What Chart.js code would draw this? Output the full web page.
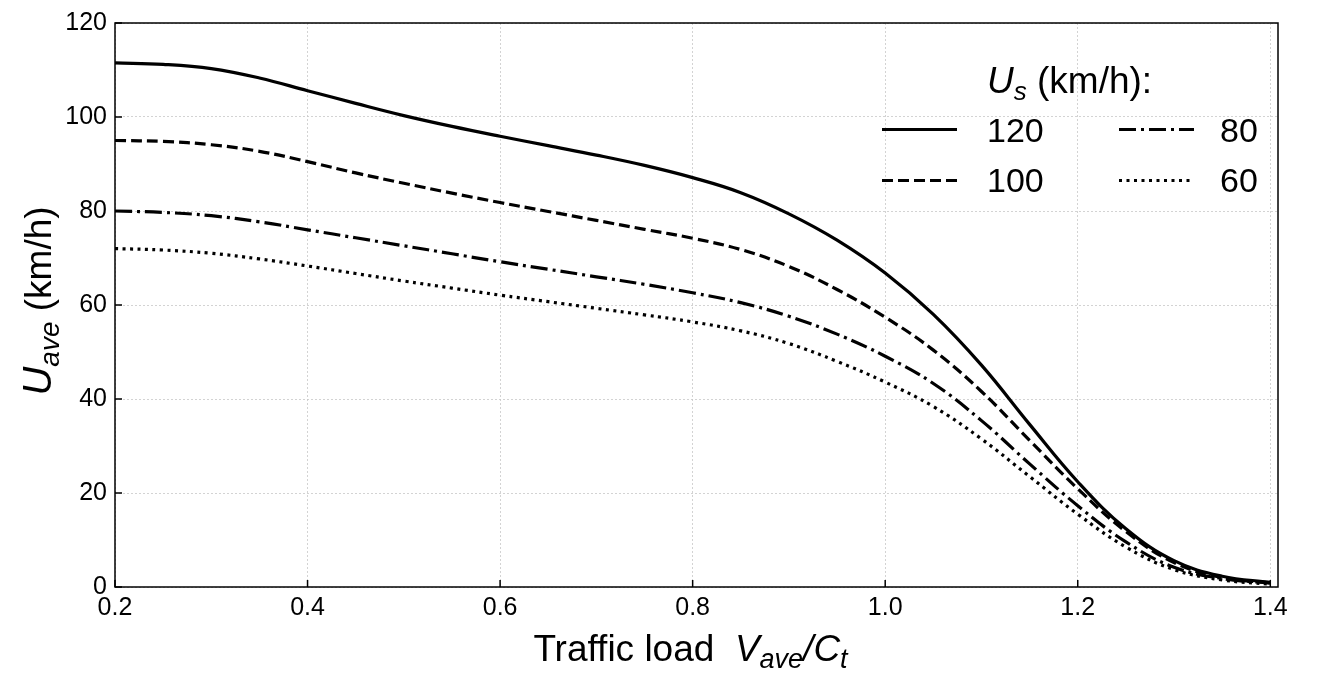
<!DOCTYPE html>
<html>
<head>
<meta charset="utf-8">
<script src="https://cdn.jsdelivr.net/npm/chart.js@4.4.1/dist/chart.umd.min.js"></script>
<style>
  html, body { margin: 0; padding: 0; background: #fff; }
</style>
</head>
<body>
<canvas id="speedChart" width="1338" height="680"></canvas>
<script>
// traffic load V_ave/C_t
const loadRatio = [0.2, 0.25, 0.3, 0.35, 0.4, 0.45, 0.5, 0.55, 0.6, 0.65, 0.7, 0.75, 0.8,
                   0.85, 0.9, 0.95, 1.0, 1.05, 1.1, 1.15, 1.2, 1.25, 1.3, 1.35, 1.4];

// average speed U_ave (km/h) for each speed limit U_s
const speed120 = [111.5, 111.2, 110.3, 108.3, 105.6, 102.9, 100.3, 98.0, 95.9, 93.9, 91.9, 89.7, 87.1,
                  83.9, 79.4, 73.8, 66.8, 58.0, 47.2, 34.6, 22.4, 12.4, 5.6, 2.3, 1.0];
const speed100 = [95.0, 94.8, 94.1, 92.7, 90.5, 88.1, 85.9, 83.8, 81.8, 79.9, 78.0, 76.1, 74.2,
                  71.8, 68.2, 63.3, 57.4, 50.4, 41.6, 31.2, 20.9, 11.8, 5.2, 2.0, 0.9];
const speed80 = [80.0, 79.7, 79.0, 77.7, 76.0, 74.3, 72.6, 70.9, 69.2, 67.6, 66.0, 64.4, 62.6,
                 60.5, 57.6, 53.8, 49.1, 43.3, 35.4, 26.2, 17.3, 9.6, 4.2, 1.8, 0.8];
const speed60 = [72.0, 71.7, 71.0, 69.8, 68.3, 66.7, 65.1, 63.6, 62.1, 60.7, 59.3, 57.9, 56.4,
                 54.5, 51.8, 48.0, 43.6, 38.4, 31.5, 23.5, 15.5, 8.5, 3.7, 1.5, 0.6];

const seriesLabels = ['120', '100', '80', '60'];
const xTicks = [0.2, 0.4, 0.6, 0.8, 1.0, 1.2, 1.4];
const yTicks = [0, 20, 40, 60, 80, 100, 120];

const FONT = '"Liberation Sans", Arial, Helvetica, sans-serif';

function toPoints(ys) {
    return loadRatio.map((x, i) => ({ x: x, y: ys[i] }));
}

// text with mixed italic / subscript parts
function richWidth(ctx, parts) {
    let w = 0;
    parts.forEach(p => {
        ctx.font = (p.italic ? 'italic ' : '') + p.size + 'px ' + FONT;
        w += ctx.measureText(p.text).width;
    });
    return w;
}
function drawRich(ctx, parts, x, y) {
    let cx = x;
    parts.forEach(p => {
        ctx.font = (p.italic ? 'italic ' : '') + p.size + 'px ' + FONT;
        ctx.fillText(p.text, cx, y + (p.dy || 0));
        cx += ctx.measureText(p.text).width;
    });
}

// frame, inward ticks, axis titles, legend
const decorPlugin = {
    id: 'decor',
    afterDraw(chart) {
        const ctx = chart.ctx;
        const a = chart.chartArea;
        const xs = chart.scales.x, ys = chart.scales.y;
        ctx.save();
        ctx.strokeStyle = '#000';
        ctx.fillStyle = '#000';
        ctx.lineWidth = 1.5;
        ctx.setLineDash([]);
        ctx.strokeRect(a.left, a.top, a.right - a.left, a.bottom - a.top);

        // ticks pointing inward
        ctx.beginPath();
        yTicks.forEach(v => {
            const py = ys.getPixelForValue(v);
            ctx.moveTo(a.left, py); ctx.lineTo(a.left + 7, py);
        });
        xTicks.forEach(v => {
            const px = xs.getPixelForValue(v);
            ctx.moveTo(px, a.bottom); ctx.lineTo(px, a.bottom - 7);
        });
        ctx.stroke();

        // x title
        ctx.textBaseline = 'alphabetic';
        const xTitle = [
            { text: 'Traffic load  ', size: 37 },
            { text: 'V', size: 37, italic: true },
            { text: 'ave', size: 27, italic: true, dy: 7 },
            { text: '/C', size: 37, italic: true },
            { text: 't', size: 27, italic: true, dy: 7 }
        ];
        const xw = richWidth(ctx, xTitle);
        drawRich(ctx, xTitle, (a.left + a.right) / 2 - xw / 2 - 6, 661);

        // y title, rotated
        const yTitle = [
            { text: 'U', size: 40, italic: true },
            { text: 'ave', size: 28, italic: true, dy: 8 },
            { text: ' (km/h)', size: 37 }
        ];
        const yw = richWidth(ctx, yTitle);
        ctx.save();
        ctx.translate(51, 301);
        ctx.rotate(-Math.PI / 2);
        drawRich(ctx, yTitle, -yw / 2, 0);
        ctx.restore();

        // legend
        const lTitle = [
            { text: 'U', size: 37, italic: true },
            { text: 's', size: 26, italic: true, dy: 7 },
            { text: ' (km/h):', size: 37 }
        ];
        drawRich(ctx, lTitle, 987, 93);
        const cols = [{ lx: 882, tx: 987 }, { lx: 1119, tx: 1220 }];
        const rows = [{ ly: 129.5, ty: 142 }, { ly: 180.5, ty: 192 }];
        chart.data.datasets.forEach((ds, i) => {
            const c = cols[Math.floor(i / 2)], r = rows[i % 2];
            ctx.beginPath();
            ctx.lineWidth = ds.borderWidth;
            ctx.lineCap = 'butt';
            ctx.setLineDash(ds.borderDash || []);
            ctx.moveTo(c.lx, r.ly); ctx.lineTo(c.lx + 75, r.ly);
            ctx.stroke();
            ctx.setLineDash([]);
            ctx.font = '34px ' + FONT;
            ctx.fillText(ds.label, c.tx, r.ty);
        });
        ctx.restore();
    }
};

const lineStyles = [[], [11, 5], [17, 5, 3, 5], [3, 4.5]];
const seriesData = [speed120, speed100, speed80, speed60];

new Chart(document.getElementById('speedChart'), {
    type: 'line',
    data: {
        datasets: seriesData.map((ys, i) => ({
            label: seriesLabels[i],
            data: toPoints(ys),
            borderColor: '#000',
            borderWidth: 3.2,
            borderDash: lineStyles[i],
            borderCapStyle: 'butt',
            pointRadius: 0,
            fill: false,
            tension: 0.4
        }))
    },
    options: {
        responsive: false,
        animation: false,
        devicePixelRatio: 1,
        layout: { padding: { top: 20, right: 60, left: 0, bottom: 0 } },
        plugins: {
            legend: { display: false },
            tooltip: { enabled: false }
        },
        scales: {
            x: {
                type: 'linear',
                min: 0.2,
                max: 1.408,
                afterBuildTicks: s => { s.ticks = xTicks.map(v => ({ value: v })); },
                afterFit: s => { s.height = 93; },
                grid: { color: '#c8c8c8', lineWidth: 0.8, drawTicks: false },
                border: { display: false, dash: [2, 2] },
                ticks: {
                    padding: 6,
                    color: '#000',
                    font: { family: FONT, size: 25 },
                    maxRotation: 0,
                    callback: v => v.toFixed(1)
                }
            },
            y: {
                min: 0,
                max: 120,
                afterBuildTicks: s => { s.ticks = yTicks.map(v => ({ value: v })); },
                afterFit: s => { s.width = 115; },
                grid: { color: '#c8c8c8', lineWidth: 0.8, drawTicks: false },
                border: { display: false, dash: [2, 2] },
                ticks: {
                    padding: 8,
                    color: '#000',
                    font: { family: FONT, size: 25 }
                }
            }
        }
    },
    plugins: [decorPlugin]
});
</script>
</body>
</html>
